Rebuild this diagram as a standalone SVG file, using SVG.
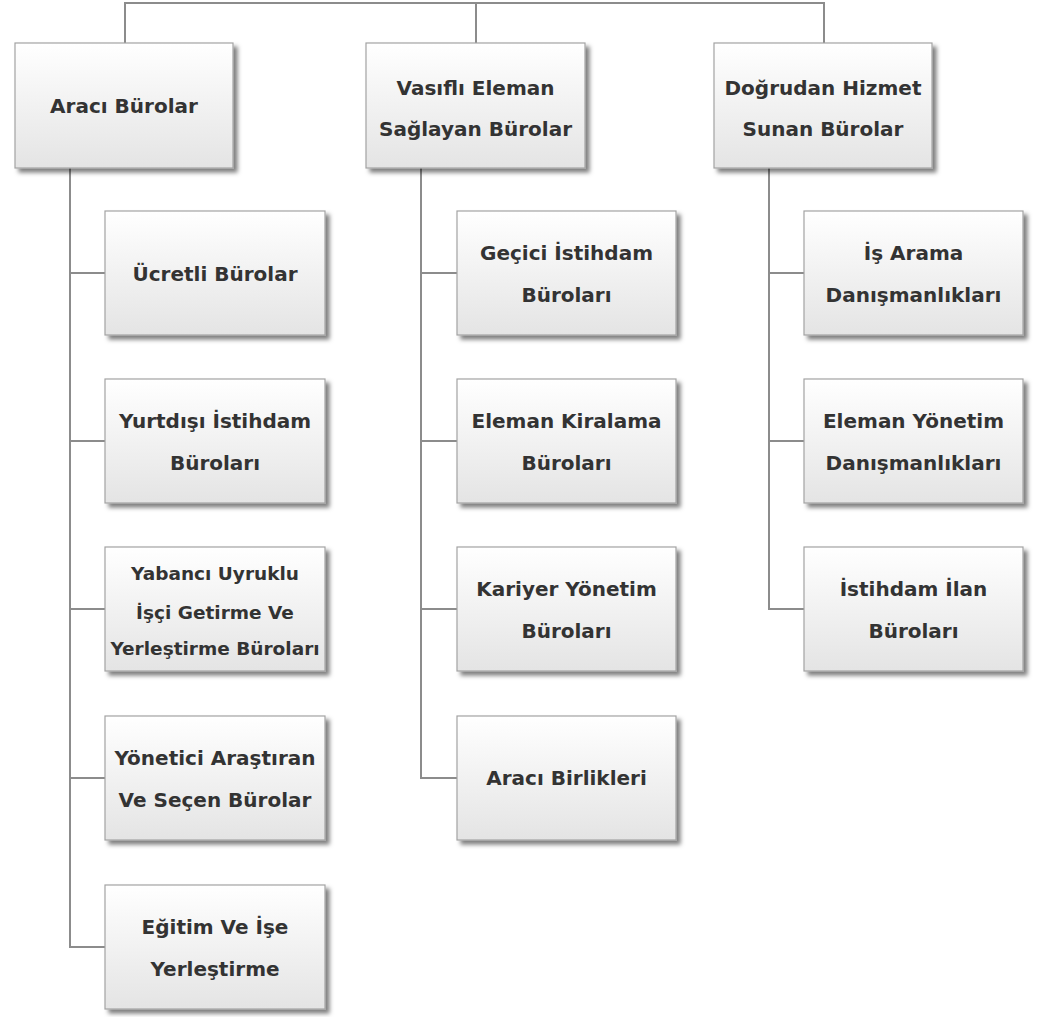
<svg xmlns="http://www.w3.org/2000/svg" width="1040" height="1017" viewBox="0 0 1040 1017">
<style>
.box{fill:url(#g);stroke:#a3a3a3;stroke-width:1.2;filter:url(#sh)}
.t{font-family:"DejaVu Sans","Liberation Sans",sans-serif;font-weight:bold;font-size:20px;fill:#333;text-anchor:middle}
.s{font-size:18.5px}
.c{fill:none;stroke:#8c8c8c;stroke-width:2}
</style>
<defs>
<linearGradient id="g" x1="0" y1="0" x2="0" y2="1">
<stop offset="0" stop-color="#ffffff"/>
<stop offset="1" stop-color="#e4e4e4"/>
</linearGradient>
<filter id="sh" x="-10%" y="-10%" width="130%" height="130%">
<feDropShadow dx="4" dy="4" stdDeviation="2" flood-color="#000" flood-opacity="0.5"/>
</filter>
</defs>
<rect width="1040" height="1017" fill="#fff"/>
<g id="connectors">
<path class="c" d="M125 43 V3 H824 V43 M476 3 V43"/>
<path class="c" d="M70 168 V947 H105 M70 273 H105 M70 441 H105 M70 609 H105 M70 778 H105"/>
<path class="c" d="M421 168 V778 H457 M421 273 H457 M421 441 H457 M421 609 H457"/>
<path class="c" d="M769 168 V609 H804 M769 273 H804 M769 441 H804"/>
</g>
<g id="n-araci"><rect class="box" x="15" y="43" width="218" height="125"/><text class="t" x="124" y="112.5">Aracı Bürolar</text></g>
<g id="n-vasifli"><rect class="box" x="366" y="43" width="219" height="125"/><text class="t" x="475.5" y="94.5">Vasıflı Eleman</text><text class="t" x="475.5" y="135.5">Sağlayan Bürolar</text></g>
<g id="n-dogrudan"><rect class="box" x="714" y="43" width="218" height="125"/><text class="t" x="823" y="94.5">Doğrudan Hizmet</text><text class="t" x="823" y="135.5">Sunan Bürolar</text></g>
<g id="n-ucretli"><rect class="box" x="105" y="211" width="220" height="124"/><text class="t" x="215" y="280.5">Ücretli Bürolar</text></g>
<g id="n-yurtdisi"><rect class="box" x="105" y="379" width="220" height="124"/><text class="t" x="215" y="427.5">Yurtdışı İstihdam</text><text class="t" x="215" y="469.5">Büroları</text></g>
<g id="n-yabanci"><rect class="box" x="105" y="547" width="220" height="124"/><text class="t s" x="215" y="580">Yabancı Uyruklu</text><text class="t s" x="215" y="619">İşçi Getirme Ve</text><text class="t s" x="215" y="655">Yerleştirme Büroları</text></g>
<g id="n-yonetici"><rect class="box" x="105" y="716" width="220" height="124"/><text class="t" x="215" y="764.5">Yönetici Araştıran</text><text class="t" x="215" y="806.5">Ve Seçen Bürolar</text></g>
<g id="n-egitim"><rect class="box" x="105" y="885" width="220" height="124"/><text class="t" x="215" y="933.5">Eğitim Ve İşe</text><text class="t" x="215" y="975.5">Yerleştirme</text></g>
<g id="n-gecici"><rect class="box" x="457" y="211" width="219" height="124"/><text class="t" x="566.5" y="259.5">Geçici İstihdam</text><text class="t" x="566.5" y="301.5">Büroları</text></g>
<g id="n-kiralama"><rect class="box" x="457" y="379" width="219" height="124"/><text class="t" x="566.5" y="427.5">Eleman Kiralama</text><text class="t" x="566.5" y="469.5">Büroları</text></g>
<g id="n-kariyer"><rect class="box" x="457" y="547" width="219" height="124"/><text class="t" x="566.5" y="595.5">Kariyer Yönetim</text><text class="t" x="566.5" y="637.5">Büroları</text></g>
<g id="n-birlikleri"><rect class="box" x="457" y="716" width="219" height="124"/><text class="t" x="566.5" y="785">Aracı Birlikleri</text></g>
<g id="n-isarama"><rect class="box" x="804" y="211" width="219" height="124"/><text class="t" x="913.5" y="259.5">İş Arama</text><text class="t" x="913.5" y="301.5">Danışmanlıkları</text></g>
<g id="n-elemanyonetim"><rect class="box" x="804" y="379" width="219" height="124"/><text class="t" x="913.5" y="427.5">Eleman Yönetim</text><text class="t" x="913.5" y="469.5">Danışmanlıkları</text></g>
<g id="n-ilan"><rect class="box" x="804" y="547" width="219" height="124"/><text class="t" x="913.5" y="595.5">İstihdam İlan</text><text class="t" x="913.5" y="637.5">Büroları</text></g>
</svg>
